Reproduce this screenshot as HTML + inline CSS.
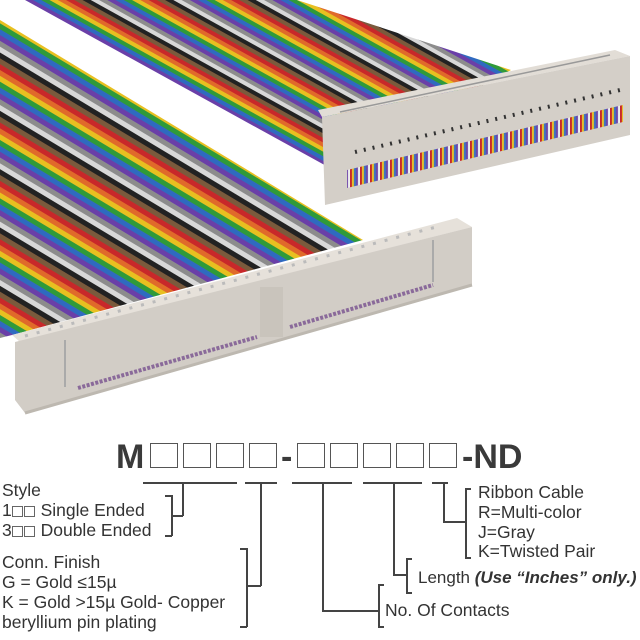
<!DOCTYPE html>
<html><head><meta charset="utf-8"><style>
html,body{margin:0;padding:0;background:#fff;}
#w{position:relative;width:640px;height:640px;overflow:hidden;font-family:"Liberation Sans",sans-serif;color:#333;}
.t{position:absolute;font-size:17.5px;white-space:nowrap;line-height:1;}
.l{position:absolute;background:#444;}
.bg{position:absolute;display:flex;gap:5px;}
.bx{width:28px;height:25px;border:1.6px solid #555;box-sizing:border-box;}
.sb{display:inline-block;width:11px;height:11px;border:1.2px solid #666;box-sizing:border-box;margin-right:1px;vertical-align:-1px;}
</style></head><body><div id="w">
<svg width="640" height="430" style="position:absolute;left:0;top:0">
<defs>
<pattern id="rb" width="50" height="40" patternUnits="userSpaceOnUse" patternTransform="rotate(29)">
<rect x="0" y="0" width="50" height="4" fill="#7a5a3c"/>
<rect x="0" y="4" width="50" height="4" fill="#c8282a"/>
<rect x="0" y="8" width="50" height="4" fill="#e06a2a"/>
<rect x="0" y="12" width="50" height="4" fill="#e8c020"/>
<rect x="0" y="16" width="50" height="4" fill="#2f9a3a"/>
<rect x="0" y="20" width="50" height="4" fill="#2f6ac0"/>
<rect x="0" y="24" width="50" height="4" fill="#6a3fa8"/>
<rect x="0" y="28" width="50" height="4" fill="#8c8c8c"/>
<rect x="0" y="32" width="50" height="4" fill="#d8d8d8"/>
<rect x="0" y="36" width="50" height="4" fill="#222"/>
</pattern>
<pattern id="rb2" width="50" height="50" patternUnits="userSpaceOnUse" patternTransform="rotate(31)">
<rect x="0" y="0" width="50" height="5" fill="#7a5a3c"/>
<rect x="0" y="5" width="50" height="5" fill="#c8282a"/>
<rect x="0" y="10" width="50" height="5" fill="#e06a2a"/>
<rect x="0" y="15" width="50" height="5" fill="#e8c020"/>
<rect x="0" y="20" width="50" height="5" fill="#2f9a3a"/>
<rect x="0" y="25" width="50" height="5" fill="#2f6ac0"/>
<rect x="0" y="30" width="50" height="5" fill="#6a3fa8"/>
<rect x="0" y="35" width="50" height="5" fill="#8c8c8c"/>
<rect x="0" y="40" width="50" height="5" fill="#d8d8d8"/>
<rect x="0" y="45" width="50" height="5" fill="#222"/>
</pattern>
<pattern id="wb" width="10" height="10" patternUnits="userSpaceOnUse" patternTransform="skewY(-11)">
<rect x="0" y="0" width="2" height="10" fill="#c8282a"/><rect x="2" y="0" width="2" height="10" fill="#e8c020"/><rect x="4" y="0" width="2" height="10" fill="#2f6ac0"/><rect x="6" y="0" width="2" height="10" fill="#6a3fa8"/><rect x="8" y="0" width="2" height="10" fill="#eee"/>
</pattern>
</defs>
<polygon points="25,0 297,0 511,70 330,168" fill="url(#rb)"/>
<polygon points="318,110 615,50 630,56 322,117" fill="#e2ddd6"/>
<polygon points="322,117 630,56 630,135 325,205" fill="#d4cfc8"/>
<polygon points="347,170 623,105 623,122 347,188" fill="url(#wb)"/>
<line x1="355" y1="152" x2="620" y2="90" stroke="#333" stroke-width="4" stroke-dasharray="2 7"/>
<line x1="340" y1="112" x2="610" y2="55" stroke="#999" stroke-width="1.5"/>
<polygon points="0,20 363,240 12,335 0,338" fill="url(#rb2)"/>
<polygon points="12,335 457,218 472,227 20,342" fill="#e6e1da"/>
<line x1="25" y1="336" x2="440" y2="226" stroke="#bbb" stroke-width="3" stroke-dasharray="3 9"/>
<polygon points="15,342 472,227 472,285 25,413 15,400" fill="#d2cdc6"/>
<line x1="25" y1="413" x2="472" y2="285" stroke="#bdb8b0" stroke-width="3"/>
<line x1="65" y1="340" x2="65" y2="387" stroke="#aaa" stroke-width="2"/>
<rect x="260" y="287" width="23" height="50" fill="#c9c4bc"/>
<line x1="433" y1="240" x2="433" y2="282" stroke="#aaa" stroke-width="2"/>
<line x1="78" y1="388" x2="257" y2="337" stroke="#8a6a9a" stroke-width="4" stroke-dasharray="3 1.5"/>
<line x1="290" y1="327" x2="433" y2="285" stroke="#8a6a9a" stroke-width="4" stroke-dasharray="3 1.5"/>
</svg>
<div class="t" style="left:116px;top:440px;font-size:34px;font-weight:bold;color:#3a3a3a;">M</div>
<div class="bg" style="left:150px;top:443px;"><div class="bx"></div><div class="bx"></div><div class="bx"></div><div class="bx"></div></div>
<div class="t" style="left:281px;top:440px;font-size:34px;font-weight:bold;color:#3a3a3a;">-</div>
<div class="bg" style="left:297px;top:443px;"><div class="bx"></div><div class="bx"></div><div class="bx"></div><div class="bx"></div><div class="bx"></div></div>
<div class="t" style="left:462px;top:440px;font-size:34px;font-weight:bold;color:#3a3a3a;">-ND</div>
<div class="l" style="left:143px;top:482px;width:94px;height:1.5px"></div>
<div class="l" style="left:245px;top:482px;width:32px;height:1.5px"></div>
<div class="l" style="left:292px;top:482px;width:60px;height:1.5px"></div>
<div class="l" style="left:363px;top:482px;width:59px;height:1.5px"></div>
<div class="l" style="left:432px;top:482px;width:16px;height:1.5px"></div>
<div class="l" style="left:182px;top:482px;width:1.5px;height:34px"></div>
<div class="l" style="left:171px;top:515px;width:12px;height:1.5px"></div>
<div class="l" style="left:171px;top:495px;width:1.5px;height:41px"></div>
<div class="l" style="left:165px;top:495px;width:7px;height:1.5px"></div>
<div class="l" style="left:165px;top:535px;width:7px;height:1.5px"></div>
<div class="l" style="left:260px;top:482px;width:1.5px;height:104px"></div>
<div class="l" style="left:246px;top:585px;width:15px;height:1.5px"></div>
<div class="l" style="left:246px;top:548px;width:1.5px;height:79px"></div>
<div class="l" style="left:240px;top:548px;width:7px;height:1.5px"></div>
<div class="l" style="left:240px;top:626px;width:7px;height:1.5px"></div>
<div class="l" style="left:322px;top:482px;width:1.5px;height:129px"></div>
<div class="l" style="left:322px;top:610px;width:57px;height:1.5px"></div>
<div class="l" style="left:378px;top:584px;width:1.5px;height:43px"></div>
<div class="l" style="left:378px;top:584px;width:6px;height:1.5px"></div>
<div class="l" style="left:378px;top:626px;width:6px;height:1.5px"></div>
<div class="l" style="left:393px;top:482px;width:1.5px;height:93px"></div>
<div class="l" style="left:393px;top:574px;width:14px;height:1.5px"></div>
<div class="l" style="left:406px;top:558px;width:1.5px;height:35px"></div>
<div class="l" style="left:406px;top:558px;width:6px;height:1.5px"></div>
<div class="l" style="left:406px;top:592px;width:6px;height:1.5px"></div>
<div class="l" style="left:443px;top:482px;width:1.5px;height:40px"></div>
<div class="l" style="left:443px;top:521px;width:23px;height:1.5px"></div>
<div class="l" style="left:465px;top:488px;width:1.5px;height:70px"></div>
<div class="l" style="left:465px;top:488px;width:6px;height:1.5px"></div>
<div class="l" style="left:465px;top:557px;width:6px;height:1.5px"></div>
<div class="t" style="left:2px;top:482px">Style</div>
<div class="t" style="left:2px;top:502px">1<span class="sb"></span><span class="sb"></span> Single Ended</div>
<div class="t" style="left:2px;top:522px">3<span class="sb"></span><span class="sb"></span> Double Ended</div>
<div class="t" style="left:2px;top:554px">Conn. Finish</div>
<div class="t" style="left:2px;top:574px">G = Gold ≤15µ</div>
<div class="t" style="left:2px;top:594px">K = Gold &gt;15µ Gold- Copper</div>
<div class="t" style="left:2px;top:614px">beryllium pin plating</div>
<div class="t" style="left:478px;top:484px">Ribbon Cable</div>
<div class="t" style="left:478px;top:504px">R=Multi-color</div>
<div class="t" style="left:478px;top:524px">J=Gray</div>
<div class="t" style="left:478px;top:543px">K=Twisted Pair</div>
<div class="t" style="left:418px;top:569px;font-size:17px">Length <b><i>(Use “Inches” only.)</i></b></div>
<div class="t" style="left:385px;top:602px">No. Of Contacts</div>
</div></body></html>
